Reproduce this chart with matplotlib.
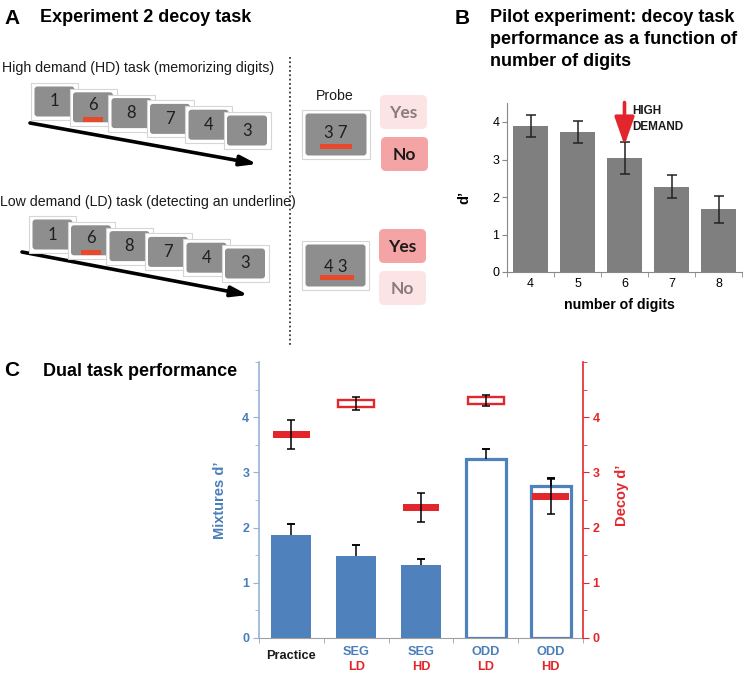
import matplotlib
matplotlib.use('Agg')
import matplotlib.pyplot as plt
from matplotlib.patches import Rectangle, FancyBboxPatch
from matplotlib.ticker import MultipleLocator, FixedLocator
import matplotlib.transforms as mtransforms
import numpy as np

plt.rcParams['font.family'] = ['Liberation Sans', 'DejaVu Sans']

# ---------------- data ----------------
# Panel A (schematic content)
a_digits = ['1', '6', '8', '7', '4', '3']
a_probe_hd = '3 7'
a_probe_ld = '4 3'

# Panel B: pilot experiment
b_digits = ['4', '5', '6', '7', '8']
b_dprime = [3.89, 3.73, 3.05, 2.28, 1.67]
b_err = [0.30, 0.29, 0.43, 0.31, 0.37]

# Panel C: dual task performance
c_conditions = ['Practice', 'SEG', 'SEG', 'ODD', 'ODD']
c_demand = ['', 'LD', 'HD', 'LD', 'HD']
c_mixtures = [1.86, 1.49, 1.32, 3.25, 2.76]
c_mixtures_err = [0.21, 0.19, 0.11, 0.18, 0.14]
c_decoy = [3.69, 4.25, 2.36, 4.30, 2.56]
c_decoy_err = [0.26, 0.115, 0.26, 0.105, 0.32]

BLUE = '#4f81bd'
BLUE_TXT = '#4a7ebb'
BLUE_SPINE = '#95b3d7'
RED = '#e3262c'
CARD_GRAY = '#8e8e8e'
UNDER_RED = '#e8482c'

fig = plt.figure(figsize=(7.5, 6.77), dpi=100)

# overlay in pixel coordinates for schematic + titles
ov = fig.add_axes([0, 0, 1, 1], zorder=0)
ov.set_xlim(0, 750)
ov.set_ylim(677, 0)
ov.axis('off')


def card(x, y, label, z, underline=False, w=47, h=37, fs=12, label_dy=0,
         ul=(13, 28, 20, 5)):
    ov.add_patch(Rectangle((x, y), w, h, fc='white', ec='#d6d6d6', lw=0.8, zorder=z))
    ov.add_patch(FancyBboxPatch((x + 3.5, y + 3.5), w - 7, h - 7,
                                boxstyle='round,pad=0,rounding_size=3',
                                fc=CARD_GRAY, ec='none', zorder=z + 0.1))
    ov.text(x + w / 2, y + h / 2 + label_dy, label, ha='center', va='center',
            fontsize=fs, color='#1e1e1e', family=['Lato', 'DejaVu Sans'], zorder=z + 0.2)
    if underline:
        ov.add_patch(Rectangle((x + ul[0], y + ul[1]), ul[2], ul[3], fc=UNDER_RED,
                               ec='none', zorder=z + 0.3))


def row(x0, y0):
    for i, d in enumerate(a_digits):
        x = x0 + 38.5 * i
        y = y0 + 5.8 * i
        if i == 1:
            card(x, y, d, 2 + i, underline=True, label_dy=-2)
        else:
            card(x, y, d, 2 + i)


def answer_box(x, y, text, strong):
    fc = '#f4a4a4' if strong else '#fde4e4'
    tc = '#1a1a1a' if strong else '#8a7c7c'
    ov.add_patch(FancyBboxPatch((x, y), 47, 34, boxstyle='round,pad=0,rounding_size=5',
                                fc=fc, ec='none', zorder=2))
    ov.text(x + 23.5, y + 17.5, text, ha='center', va='center', fontsize=12.5,
            fontweight='bold', color=tc, family=['Lato', 'DejaVu Sans'], zorder=3)


# titles
ov.text(4, 18, 'A', fontsize=15, fontweight='bold', va='center', ha='left')
ov.text(40, 18, 'Experiment 2 decoy task', fontsize=13, fontweight='bold', va='center', ha='left')
ov.text(455, 18, 'B', fontsize=15, fontweight='bold', va='center', ha='left')
ov.text(490, 18, 'Pilot experiment: decoy task', fontsize=13, fontweight='bold', va='center', ha='left')
ov.text(490, 40, 'performance as a function of', fontsize=13, fontweight='bold', va='center', ha='left')
ov.text(490, 62, 'number of digits', fontsize=13, fontweight='bold', va='center', ha='left')
ov.text(4, 371, 'C', fontsize=15, fontweight='bold', va='center', ha='left')
ov.text(43, 371, 'Dual task performance', fontsize=13, fontweight='bold', va='center', ha='left')

ov.text(2, 68, 'High demand (HD) task (memorizing digits)', fontsize=10.2, va='center', ha='left', color='#1a1a1a')
ov.text(0, 202, 'Low demand (LD) task (detecting an underline)', fontsize=10.2, va='center', ha='left', color='#1a1a1a')

# sequences and time arrows
ov.annotate('', xy=(257, 164), xytext=(30, 123),
            arrowprops=dict(arrowstyle='-|>,head_length=0.7,head_width=0.22', lw=2.6,
                            color='black', mutation_scale=14, shrinkA=0, shrinkB=0), zorder=1)
ov.annotate('', xy=(248, 295), xytext=(22, 252),
            arrowprops=dict(arrowstyle='-|>,head_length=0.7,head_width=0.22', lw=2.6,
                            color='black', mutation_scale=14, shrinkA=0, shrinkB=0), zorder=1)
row(31, 83)
row(29, 216)

# dotted separator
ov.plot([290, 290], [57, 345], ls=(0, (1, 1.4)), color='#3a3a3a', lw=1.3, zorder=1)

# probes
ov.text(335, 96, 'Probe', fontsize=10.2, ha='center', va='center', color='#1a1a1a')
card(302, 110, a_probe_hd, 2, underline=True, w=68, h=49, fs=12, label_dy=-1,
     ul=(18, 34, 32, 5))
card(302, 241, a_probe_ld, 2, underline=True, w=67, h=49, fs=12, label_dy=2,
     ul=(18, 34, 34, 5))
answer_box(380, 95, 'Yes', False)
answer_box(381, 137, 'No', True)
answer_box(379, 229, 'Yes', True)
answer_box(379, 271, 'No', False)

# ---------------- Panel B ----------------
axB = fig.add_axes([507 / 750, 1 - 272 / 677, 235 / 750, 168.75 / 677], zorder=2)
axB.patch.set_alpha(0)
xb = np.arange(len(b_digits))
axB.bar(xb, b_dprime, width=0.73, color='#7f7f7f', zorder=2)
axB.errorbar(xb, b_dprime, yerr=b_err, fmt='none', ecolor='#222222', elinewidth=1.1,
             capsize=3.5, capthick=1.1, zorder=3)
axB.set_xlim(-0.5, 4.5)
axB.set_ylim(0, 4.5)
axB.set_xticks(xb)
axB.set_xticklabels(b_digits, fontsize=9)
axB.xaxis.set_minor_locator(FixedLocator(np.arange(-0.5, 5, 1.0)))
axB.tick_params(axis='x', which='major', length=0, pad=4)
axB.tick_params(axis='x', which='minor', length=3.5, color='#888888')
axB.set_yticks([0, 1, 2, 3, 4])
axB.tick_params(axis='y', labelsize=9, length=3.5, color='#888888', pad=2)
for s in ['top', 'right']:
    axB.spines[s].set_visible(False)
for s in ['left', 'bottom']:
    axB.spines[s].set_color('#888888')
axB.set_ylabel("d’", fontsize=10.5, fontweight='bold')
axB.yaxis.set_label_coords(-0.15, 0.44)
axB.set_xlabel('number of digits', fontsize=10.2, fontweight='bold')
axB.xaxis.set_label_coords(0.48, -0.155)
axB.annotate('', xy=(2, 3.38), xytext=(2, 4.52), annotation_clip=False,
             arrowprops=dict(arrowstyle='-|>,head_length=0.85,head_width=0.3', lw=2.6,
                             color=RED, mutation_scale=20, shrinkA=0, shrinkB=0))
axB.text(2.16, 4.29, 'HIGH', fontsize=8.5, fontweight='bold', ha='left', va='center', color='#1a1a1a')
axB.text(2.16, 3.87, 'DEMAND', fontsize=8.5, fontweight='bold', ha='left', va='center', color='#1a1a1a')

# ---------------- Panel C ----------------
axC = fig.add_axes([259 / 750, 1 - 638 / 677, 324 / 750, 276 / 677], zorder=2)
axC.patch.set_alpha(0)
xc = np.arange(len(c_conditions))
hollow_mix = [c == 'ODD' for c in c_conditions]
fcs = ['white' if h else BLUE for h in hollow_mix]
lws = [2.3 if h else 0 for h in hollow_mix]
axC.bar(xc, c_mixtures, width=0.62, color=fcs, edgecolor=BLUE, linewidth=lws, zorder=2)
mix_top = np.array(c_mixtures) + np.array(c_mixtures_err)
axC.vlines(xc, c_mixtures, mix_top, color='black', lw=1.1, zorder=3)
axC.errorbar(xc, mix_top, yerr=0, fmt='none', ecolor='black', capsize=2.8,
             capthick=1.1, elinewidth=0, zorder=3)
axC.set_xlim(-0.5, 4.5)
axC.set_ylim(0, 5)
axC.set_xticks([])
axC.xaxis.set_minor_locator(FixedLocator(np.arange(-0.5, 5, 1.0)))
axC.tick_params(axis='x', which='minor', length=3.5, color='#a0a0a0')
axC.set_yticks([0, 1, 2, 3, 4])
axC.yaxis.set_minor_locator(MultipleLocator(0.5))
axC.tick_params(axis='y', which='major', labelsize=9, length=4, color=BLUE_SPINE,
                labelcolor=BLUE_TXT, pad=3)
axC.tick_params(axis='y', which='minor', length=3, color=BLUE_SPINE)
for lab in axC.get_yticklabels():
    lab.set_fontweight('bold')
axC.spines['top'].set_visible(False)
axC.spines['right'].set_visible(False)
axC.spines['left'].set_color(BLUE_SPINE)
axC.spines['left'].set_linewidth(1.2)
axC.spines['bottom'].set_color('#a0a0a0')
axC.set_ylabel("Mixtures d’", fontsize=10.5, fontweight='bold', color=BLUE_TXT)
axC.yaxis.set_label_coords(-0.099, 0.5)

ax2 = axC.twinx()
ax2.set_ylim(0, 5)
hollow_dec = [d == 'LD' for d in c_demand]
dh = 0.13
dec_bottom = np.array(c_decoy) - dh / 2
ax2.bar(xc, [dh] * len(xc), bottom=dec_bottom, width=0.56,
        color=['white' if h else RED for h in hollow_dec], edgecolor=RED,
        linewidth=[1.7 if h else 0 for h in hollow_dec], zorder=2)
ax2.errorbar(xc, c_decoy, yerr=c_decoy_err, fmt='none', ecolor='black', elinewidth=1.1,
             capsize=2.8, capthick=1.1, zorder=3)
ax2.set_yticks([0, 1, 2, 3, 4])
ax2.yaxis.set_minor_locator(MultipleLocator(0.5))
ax2.tick_params(axis='y', which='major', labelsize=9, length=4, color=RED, labelcolor=RED, pad=3)
ax2.tick_params(axis='y', which='minor', length=3, color=RED)
for lab in ax2.get_yticklabels():
    lab.set_fontweight('bold')
for s in ['top', 'left', 'bottom']:
    ax2.spines[s].set_visible(False)
ax2.spines['right'].set_color(RED)
ax2.spines['right'].set_linewidth(1.2)
ax2.set_ylabel("Decoy d’", fontsize=10.5, fontweight='bold', color=RED)
ax2.yaxis.set_label_coords(1.099, 0.518)

# two-colour category labels
trans = mtransforms.blended_transform_factory(axC.transData, fig.transFigure)
for i, (cond, dem) in enumerate(zip(c_conditions, c_demand)):
    if dem == '':
        fig.text(0, 0, cond, transform=trans) if False else None
        axC.text(i, 1 - 656 / 677, cond, transform=trans, ha='center', va='center',
                 fontsize=9.2, fontweight='bold', color='#1a1a1a')
    else:
        axC.text(i, 1 - 652 / 677, cond, transform=trans, ha='center', va='center',
                 fontsize=9.2, fontweight='bold', color=BLUE_TXT)
        axC.text(i, 1 - 667 / 677, dem, transform=trans, ha='center', va='center',
                 fontsize=9.2, fontweight='bold', color=RED)

fig.savefig('out.png', dpi=100)
